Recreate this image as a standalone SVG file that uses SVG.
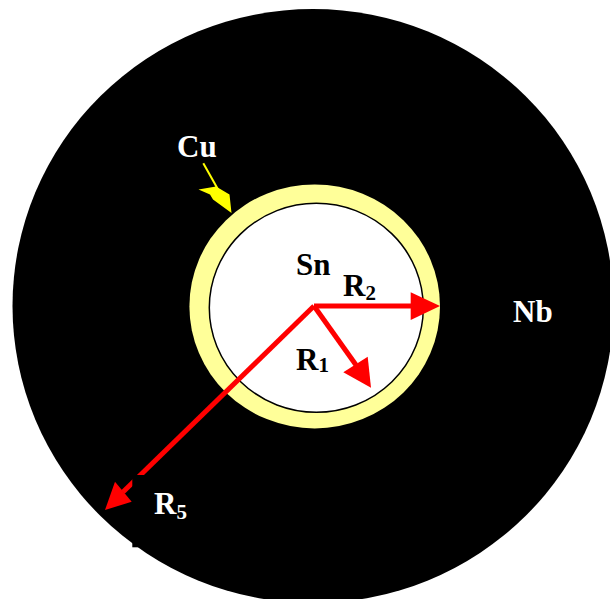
<svg xmlns="http://www.w3.org/2000/svg" width="610" height="599" viewBox="0 0 610 599">
  <style>
    .lbl { font-family: "Liberation Serif", "Times New Roman", serif; font-weight: bold; font-size: 31px; }
    .sub { font-size: 21px; }
    .w { fill: #ffffff; }
    .k { fill: #000000; }
    .shaft { stroke: #ff0000; stroke-width: 5; fill: none; }
    .head { fill: #ff0000; stroke: none; }
  </style>
  <rect width="610" height="599" fill="#ffffff"/>
  <g id="nb">
    <ellipse cx="313" cy="306" rx="300.5" ry="297" fill="#000000"/>
    <text class="lbl w" x="513" y="322">Nb</text>
  </g>
  <g id="cu">
    <ellipse cx="314.7" cy="306.4" rx="125.3" ry="122" fill="#ffff99"/>
    <text class="lbl w" x="177" y="157">Cu</text>
  </g>
  <g id="sn">
    <ellipse cx="316.3" cy="307.8" rx="107" ry="104.5" fill="#ffffff" stroke="#000000" stroke-width="1.5"/>
    <text class="lbl k" x="296" y="275">Sn</text>
  </g>
  <g id="connectors">
    <g id="arrow-cu">
      <line x1="203.3" y1="163.3" x2="220" y2="193" stroke="#ffff00" stroke-width="2"/>
      <polygon points="198.5,189.5 216,186.5 229.5,194.5 231.5,213 213,199.5 210,194.5" fill="#ffff00"/>
    </g>
    <g id="arrow-r2">
      <line class="shaft" x1="314" y1="306" x2="412" y2="306"/>
      <polygon class="head" points="410.7,292.3 440,306 410.7,320"/>
    </g>
    <g id="arrow-r1">
      <line class="shaft" x1="314" y1="306" x2="356" y2="365"/>
      <polygon class="head" points="343.3,372.3 371,387.7 367.7,356.7"/>
    </g>
    <g id="arrow-r5">
      <line class="shaft" x1="314" y1="306" x2="123" y2="492"/>
      <polygon class="head" points="115,481.7 105,510 131.7,501.7"/>
    </g>
  </g>
  <g id="r5-label">
    <rect x="132.3" y="475" width="70" height="72.3" fill="#000000"/>
    <text class="lbl w" x="154" y="514">R<tspan class="sub" dy="5">5</tspan></text>
  </g>
  <g id="r2-label">
    <text class="lbl k" x="343" y="296">R<tspan class="sub" dy="4">2</tspan></text>
  </g>
  <g id="r1-label">
    <text class="lbl k" x="296" y="370">R<tspan class="sub" dy="2">1</tspan></text>
  </g>
</svg>
